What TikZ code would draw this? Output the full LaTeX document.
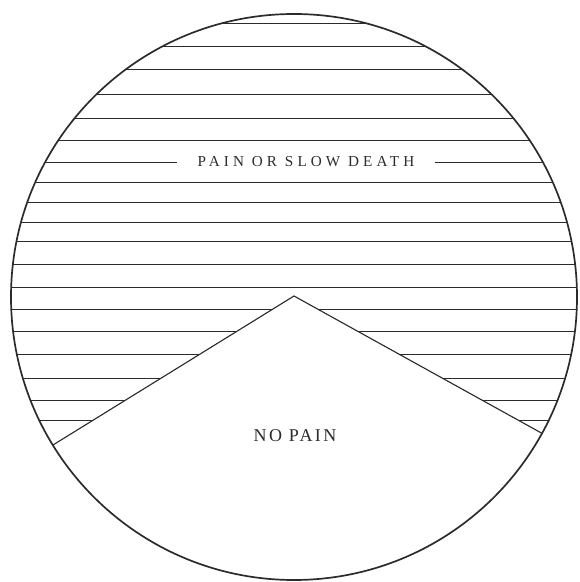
\documentclass[tikz,border=0pt]{standalone}
\usepackage{fontspec}
\setmainfont{Liberation Serif}
\begin{document}
\begin{tikzpicture}[x=1cm,y=1cm,font=\rmfamily\fontsize{10.7}{12}\selectfont]
  \definecolor{dline}{HTML}{2B2B2B}
  \tikzset{
    hatch/.style={dline,line width=0.6pt},
    rim/.style={dline,line width=1.2pt},
    edge/.style={dline,line width=0.8pt},
    caption/.style={text=dline,inner ysep=1pt}
  }
  \def\rad{7.075}
  \path[use as bounding box] (-7.35,-7.125) rectangle (7.15,7.425);
  \coordinate (peak) at (0,0.025);
  \coordinate (lfoot) at (211.55:\rad);
  \coordinate (rfoot) at (-28.8:\rad);
  \node[caption,inner xsep=0.5cm,
    font=\rmfamily\fontsize{10.8}{12}\selectfont\addfontfeatures{LetterSpace=27}]
    (death) at (0.3,3.375) {PAIN OR SLOW DEATH};
  \begin{scope}
    \clip (0,0) circle (\rad);
    \foreach \y in {6.85,6.275,5.70,5.075,4.475,3.925,2.875,2.375,1.875,
      1.40,0.825,0.25,-0.30,-0.85,-1.425,-2.025,-2.575,-3.075}{
      \draw[hatch] (-\rad,\y) -- (\rad,\y);
    }
    \draw[hatch] (-\rad,3.375) -- (death.west);
    \draw[hatch] (death.east) -- (\rad,3.375);
  \end{scope}
  \fill[white] (peak) -- (lfoot) arc[start angle=211.55,end angle=331.2,radius=\rad] -- cycle;
  \draw[edge] (lfoot) -- (peak) -- (rfoot);
  \draw[rim] (0,0) circle (\rad);
  \node[caption,font=\rmfamily\fontsize{12.8}{14}\selectfont\addfontfeatures{LetterSpace=13}]
    (nopain) at (0.025,-3.475) {NO PAIN};
\end{tikzpicture}
\end{document}
